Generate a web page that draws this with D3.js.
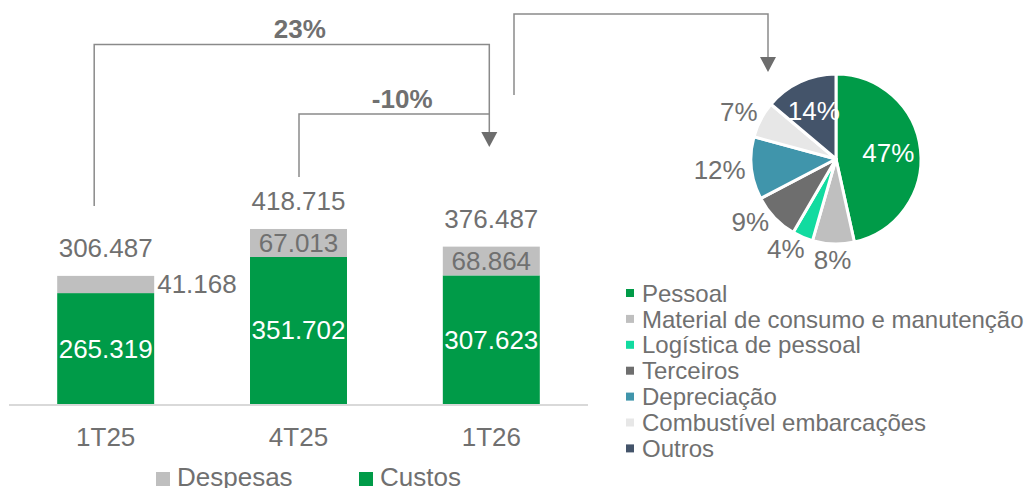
<!DOCTYPE html>
<html>
<head>
<meta charset="utf-8">
<script src="https://cdn.jsdelivr.net/npm/d3@7"></script>
<style>
    body { margin: 0; background: #fff; }
    svg { display: block; font-family: "Liberation Sans", Arial, sans-serif; }
</style>
</head>
<body>
<div id="chart"></div>
<script>
// bar data (R$ mil)
let quarters = ["1T25", "4T25", "1T26"];
let custos = [265.319, 351.702, 307.623];
let despesas = [41.168, 67.013, 68.864];
let totals = [306.487, 418.715, 376.487];
let seriesNames = ["Despesas", "Custos"];

// variation arrows
let variations = [
    {from: "1T25", to: "1T26", text: "23%"},
    {from: "4T25", to: "1T26", text: "-10%"}
];

// breakdown of 1T26
let pieLabels = ["Pessoal", "Material de consumo e manutenção", "Logística de pessoal",
    "Terceiros", "Depreciação", "Combustível embarcações", "Outros"];
let pieValues = [47, 8, 4, 9, 12, 7, 14];
let pieColors = ["#009b48", "#bfbfbf", "#12dba0", "#6e6e6e", "#4095ab", "#e7e7e7", "#44546a"];

let textColor = "#707070";
let lineColor = "#8a8a8a";
let green = "#009b48";
let gray = "#bfbfbf";

let fmt = function(v) { return v.toFixed(3); };

let width = 1026, height = 488;
let svg = d3.select("#chart").append("svg")
    .attr("width", width)
    .attr("height", height);

// scales
let x = d3.scaleBand()
    .domain(quarters)
    .range([9, 588])
    .paddingInner(0.497)
    .paddingOuter(0.25);
let y = d3.scaleLinear()
    .domain([0, 500])
    .range([404, 195]);

let rows = quarters.map(function(q, i) {
    return {q: q, custos: custos[i], despesas: despesas[i], total: totals[i]};
});

// bars
let bars = svg.append("g").selectAll("g")
    .data(rows)
    .enter().append("g");

bars.append("rect")
    .attr("x", function(d) { return x(d.q); })
    .attr("width", x.bandwidth())
    .attr("y", function(d) { return y(d.custos); })
    .attr("height", function(d) { return y(0) - y(d.custos); })
    .attr("fill", green);

bars.append("rect")
    .attr("x", function(d) { return x(d.q); })
    .attr("width", x.bandwidth())
    .attr("y", function(d) { return y(d.custos + d.despesas); })
    .attr("height", function(d) { return y(d.custos) - y(d.custos + d.despesas); })
    .attr("fill", gray);

// axis line
svg.append("line")
    .attr("x1", x.range()[0])
    .attr("x2", x.range()[1])
    .attr("y1", y(0) + 1)
    .attr("y2", y(0) + 1)
    .attr("stroke", "#d9d9d9")
    .attr("stroke-width", 2);

// value labels
bars.append("text")
    .attr("x", function(d) { return x(d.q) + x.bandwidth() / 2; })
    .attr("y", function(d) { return (y(d.custos) + y(0)) / 2 + 9; })
    .attr("text-anchor", "middle")
    .attr("font-size", "26px")
    .attr("fill", "#fff")
    .text(function(d) { return fmt(d.custos); });

bars.append("text")
    .each(function(d) {
        let top = y(d.custos + d.despesas);
        let h = y(d.custos) - top;
        let t = d3.select(this)
            .attr("font-size", "26px")
            .attr("fill", textColor)
            .attr("y", top + h / 2 + 9);
        // small segment: label goes to the right of the bar
        if (h < 22) {
            t.attr("x", x(d.q) + x.bandwidth() + 3).attr("text-anchor", "start");
        } else {
            t.attr("x", x(d.q) + x.bandwidth() / 2).attr("text-anchor", "middle");
        }
    })
    .text(function(d) { return fmt(d.despesas); });

bars.append("text")
    .attr("x", function(d) { return x(d.q) + x.bandwidth() / 2; })
    .attr("y", function(d) { return y(d.total) - 19; })
    .attr("text-anchor", "middle")
    .attr("font-size", "26px")
    .attr("fill", textColor)
    .text(function(d) { return fmt(d.total); });

// category labels
svg.append("g").selectAll("text")
    .data(quarters)
    .enter().append("text")
    .attr("x", function(d) { return x(d) + x.bandwidth() / 2; })
    .attr("y", 446)
    .attr("text-anchor", "middle")
    .attr("font-size", "26px")
    .attr("fill", textColor)
    .text(function(d) { return d; });

// bottom legend
let legend = svg.append("g").selectAll("g")
    .data(seriesNames)
    .enter().append("g")
    .attr("transform", function(d, i) { return "translate(" + (156 + i * 203) + ",0)"; });

legend.append("rect")
    .attr("y", 472)
    .attr("width", 14)
    .attr("height", 14)
    .attr("fill", function(d, i) { return i === 0 ? gray : green; });

legend.append("text")
    .attr("x", 21)
    .attr("y", 486)
    .attr("font-size", "26px")
    .attr("fill", textColor)
    .text(function(d) { return d; });

// arrows
function arrowHead(g, px, py) {
    g.append("path")
        .attr("d", "M" + (px - 8) + "," + (py - 15) + "L" + (px + 8) + "," + (py - 15) + "L" + px + "," + py + "Z")
        .attr("fill", "#6d6d6d");
}

let arrows = svg.append("g");
let arrowLevels = [{start: 206, top: 44.5, dx: -11.5}, {start: 177, top: 114, dx: 0.5}];
let tipY = 147;

variations.forEach(function(v, i) {
    let lv = arrowLevels[i];
    let x1 = x(v.from) + x.bandwidth() / 2 + lv.dx;
    let x2 = x(v.to) + x.bandwidth() / 2 - 2;
    arrows.append("path")
        .attr("d", "M" + x1 + "," + lv.start + "V" + lv.top + "H" + x2 + (i === 0 ? "V" + (tipY - 14) : ""))
        .attr("fill", "none")
        .attr("stroke", lineColor)
        .attr("stroke-width", 1.5);
    arrows.append("text")
        .attr("x", (x1 + x2) / 2 + 8)
        .attr("y", lv.top - 6.5)
        .attr("text-anchor", "middle")
        .attr("font-size", "26px")
        .attr("font-weight", "bold")
        .attr("fill", textColor)
        .text(v.text);
    if (i === 0) arrowHead(arrows, x2, tipY);
});

// pie
let cx = 836, cy = 159, R = 85;

arrows.append("path")
    .attr("d", "M514,95V14H" + (cx - 68) + "V58")
    .attr("fill", "none")
    .attr("stroke", lineColor)
    .attr("stroke-width", 1.5);
arrowHead(arrows, cx - 68, 72);

let pie = d3.pie().sort(null).value(function(d) { return d; });
let arcs = pie(pieValues);
let arc = d3.arc().innerRadius(0).outerRadius(R);

let pg = svg.append("g")
    .attr("transform", "translate(" + cx + "," + cy + ")");

pg.selectAll("path")
    .data(arcs)
    .enter().append("path")
    .attr("d", arc)
    .attr("fill", function(d, i) { return pieColors[i]; })
    .attr("stroke", "#fff")
    .attr("stroke-width", 3)
    .attr("stroke-linejoin", "round");

let inner = d3.arc().innerRadius(R * 0.62).outerRadius(R * 0.62);
let placed = [];

function labelBox(a, w) {
    let s = Math.sin(a), c = -Math.cos(a);
    let cxl = (R + 6) * s + w / 2 * s;
    let cyl = (R + 6) * c + 10 * c;
    return {x: cxl, y: cyl, x0: cxl - w / 2, x1: cxl + w / 2, y0: cyl - 13, y1: cyl + 13};
}

function overlaps(b) {
    return placed.some(function(p) {
        return b.x0 < p.x1 + 8 && b.x1 > p.x0 - 8 && b.y0 < p.y1 && b.y1 > p.y0;
    });
}

pg.selectAll("text")
    .data(arcs)
    .enter().append("text")
    .attr("font-size", "26px")
    .text(function(d) { return d.data + "%"; })
    .each(function(d) {
        let t = d3.select(this);
        if (d.data >= 13) {
            let c = inner.centroid(d);
            t.attr("x", c[0]).attr("y", c[1] + 9)
                .attr("text-anchor", "middle")
                .attr("fill", "#fff");
        } else {
            let a = (d.startAngle + d.endAngle) / 2;
            let w = this.getComputedTextLength();
            let b = labelBox(a, w);
            // nudge along the circle until it clears the previous labels
            while (overlaps(b) && a < d.endAngle + 0.5) {
                a += Math.PI / 180;
                b = labelBox(a, w);
            }
            placed.push(b);
            t.attr("x", b.x)
                .attr("y", b.y + 9)
                .attr("text-anchor", "middle")
                .attr("fill", textColor);
        }
    });

// pie legend
let pl = svg.append("g").selectAll("g")
    .data(pieLabels)
    .enter().append("g")
    .attr("transform", function(d, i) { return "translate(626," + (293 + i * 25.9) + ")"; });

pl.append("rect")
    .attr("y", -4)
    .attr("width", 8)
    .attr("height", 8)
    .attr("fill", function(d, i) { return pieColors[i]; });

pl.append("text")
    .attr("x", 16)
    .attr("y", 8.6)
    .attr("font-size", "24px")
    .attr("fill", textColor)
    .text(function(d) { return d; });
</script>
</body>
</html>
